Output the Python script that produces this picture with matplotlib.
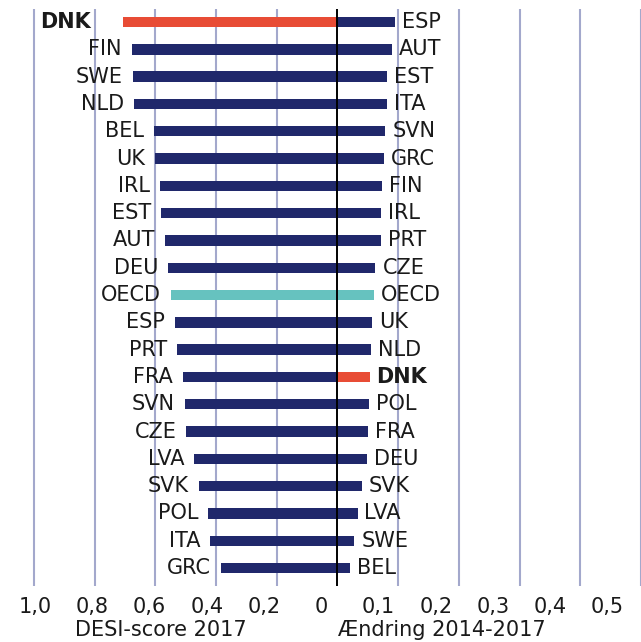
import numpy as np
import matplotlib
matplotlib.use("Agg")
import matplotlib.pyplot as plt

# venstre side: DESI-score 2017
left_countries = ["DNK", "FIN", "SWE", "NLD", "BEL", "UK", "IRL", "EST", "AUT", "DEU", "OECD",
                  "ESP", "PRT", "FRA", "SVN", "CZE", "LVA", "SVK", "POL", "ITA", "GRC"]
desi_2017 = [0.707, 0.678, 0.675, 0.670, 0.605, 0.602, 0.585, 0.580, 0.569, 0.558, 0.550,
             0.536, 0.528, 0.510, 0.504, 0.499, 0.472, 0.457, 0.426, 0.419, 0.385]

# højre side: ændring 2014-2017
right_countries = ["ESP", "AUT", "EST", "ITA", "SVN", "GRC", "FIN", "IRL", "PRT", "CZE", "OECD",
                   "UK", "NLD", "DNK", "POL", "FRA", "DEU", "SVK", "LVA", "SWE", "BEL"]
change_14_17 = [0.095, 0.090, 0.082, 0.081, 0.079, 0.076, 0.0735, 0.072, 0.071, 0.0625, 0.060,
                0.057, 0.055, 0.053, 0.052, 0.051, 0.0486, 0.0405, 0.033, 0.028, 0.020]

tick_labels = ["1,0", "0,8", "0,6", "0,4", "0,2", "0", "0,1", "0,2", "0,3", "0,4", "0,5"]

NAVY = "#20286b"
RED = "#e84c35"
TEAL = "#66c2bf"
GRID = "#a3a8cc"
TXT = "#1a1a1a"

RIGHT_SCALE = 2.0  # højre side er tegnet i dobbelt skala


def bar_color(name):
    if name == "DNK":
        return RED
    if name == "OECD":
        return TEAL
    return NAVY


fig = plt.figure(figsize=(6.41, 6.42), dpi=100)
ax = fig.add_axes([0, 0.0872, 1, 0.8988])

n = len(left_countries)
y = np.arange(n)

# gitterlinjer
for gx in np.arange(-1.0, 1.01, 0.2):
    if abs(gx) > 1e-9:
        ax.axvline(gx, color=GRID, lw=1.5, zorder=0)

left_vals = -np.array(desi_2017)
right_vals = np.array(change_14_17) * RIGHT_SCALE

ax.barh(y, left_vals, height=0.38, color=[bar_color(c) for c in left_countries], zorder=2)
ax.barh(y, right_vals, height=0.38, color=[bar_color(c) for c in right_countries], zorder=2)
ax.axvline(0, color="black", lw=1.4, zorder=3)

# landeetiketter
for yi, (name, v) in enumerate(zip(left_countries, left_vals)):
    bold = name == "DNK"
    ax.annotate(name, (v, yi), xytext=(-23 if bold else -7, 0), textcoords="offset points",
                ha="right", va="center", fontsize=15,
                fontweight="bold" if bold else "normal", color=TXT)
for yi, (name, v) in enumerate(zip(right_countries, right_vals)):
    bold = name == "DNK"
    ax.annotate(name, (v, yi), xytext=(5, 0), textcoords="offset points",
                ha="left", va="center", fontsize=15,
                fontweight="bold" if bold else "normal", color=TXT)

ax.set_xlim(-1.112, 1.0)
ax.set_ylim(n - 1 + 0.66, -0.48)

ax.set_xticks(np.linspace(-0.997, 0.89, len(tick_labels)))
ax.set_xticklabels(tick_labels, fontsize=15, color=TXT)
ax.tick_params(axis="x", length=0, pad=8)
ax.set_yticks([])
for s in ax.spines.values():
    s.set_visible(False)

fig.text(161 / 641, 12 / 642, "DESI-score 2017", ha="center", va="center", fontsize=15, color=TXT)
fig.text(442 / 641, 12 / 642, "Ændring 2014-2017", ha="center", va="center", fontsize=15, color=TXT)

fig.savefig("out.png", dpi=100)
